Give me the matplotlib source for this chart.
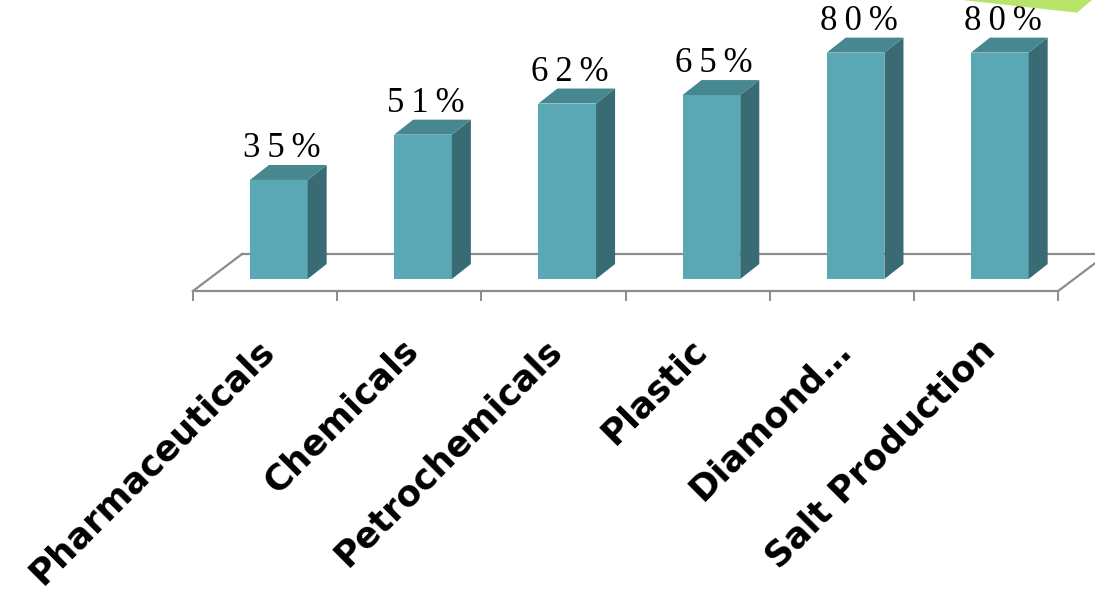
import matplotlib
matplotlib.use("Agg")
import matplotlib.pyplot as plt
from matplotlib.patches import Polygon

# data
categories = ["Pharmaceuticals", "Chemicals", "Petrochemicals", "Plastic",
              "Diamond…", "Salt Production"]
values = [35, 51, 62, 65, 80, 80]
value_labels = ["35%", "51%", "62%", "65%", "80%", "80%"]

# colours
FRONT = "#5aa8b5"
SIDE = "#386b73"
TOP = "#468790"
FLOOR = "#8c8c8c"
GREEN = "#b9e46a"

# pseudo-3d geometry (x in category units, y in percent units)
bar_left, bar_w = 0.395, 0.40
bar_dx, bar_dy = 0.132, 5.3
floor_front, floor_dx, floor_dy = -4.24, 0.34, 13.07
tick_low = -7.4

fig = plt.figure(figsize=(10.95, 5.9), dpi=100)
ax = fig.add_axes([0, 0, 1, 1])
ax.set_xlim(-193 / 144.2, (1095 - 193) / 144.2)
ax.set_ylim(-(590 - 279) / 2.83, 279 / 2.83)
ax.axis("off")

n = len(categories)

# floor
fb = floor_front + floor_dy
ax.plot([0, n], [floor_front, floor_front], color=FLOOR, lw=1.6, zorder=1)
ax.plot([floor_dx, n + floor_dx], [fb, fb], color=FLOOR, lw=1.6, zorder=1)
ax.plot([0, floor_dx], [floor_front, fb], color=FLOOR, lw=1.6, zorder=1)
ax.plot([n, n + floor_dx], [floor_front, fb], color=FLOOR, lw=1.6, zorder=1)
for k in range(n + 1):
    ax.plot([k, k], [floor_front, tick_low], color=FLOOR, lw=1.4, zorder=1)

# bars
for i, v in enumerate(values):
    x0 = i + bar_left
    x1 = x0 + bar_w
    ax.add_patch(Polygon([(x0, 0), (x1, 0), (x1, v), (x0, v)],
                         closed=True, fc=FRONT, ec="none", zorder=3))
    ax.add_patch(Polygon([(x1, 0), (x1 + bar_dx, bar_dy),
                          (x1 + bar_dx, v + bar_dy), (x1, v)],
                         closed=True, fc=SIDE, ec="none", zorder=3))
    ax.add_patch(Polygon([(x0, v), (x1, v), (x1 + bar_dx, v + bar_dy),
                          (x0 + bar_dx, v + bar_dy)],
                         closed=True, fc=TOP, ec="none", zorder=3))
    # spaced-out digits like the original
    spaced = "\u2009".join(value_labels[i])
    ax.text(x0 + bar_w / 2 + 0.02, v + bar_dy, spaced,
            ha="center", va="bottom", fontsize=25,
            family=["Liberation Serif", "DejaVu Serif"], color="black",
            zorder=4)

# category labels
for i, name in enumerate(categories):
    ax.text(i + 0.44, -19.0, name, rotation=45, rotation_mode="anchor",
            ha="right", va="top", fontsize=25.5, fontweight="bold",
            family="DejaVu Sans", color="black")

# green decoration in the corner
fig.patches.append(Polygon([(962 / 1095, 1), (1077 / 1095, 1 - 12.7 / 590),
                            (1092 / 1095, 1)], closed=True,
                           transform=fig.transFigure, fc=GREEN, ec="none"))

fig.savefig("out.png", dpi=100)
